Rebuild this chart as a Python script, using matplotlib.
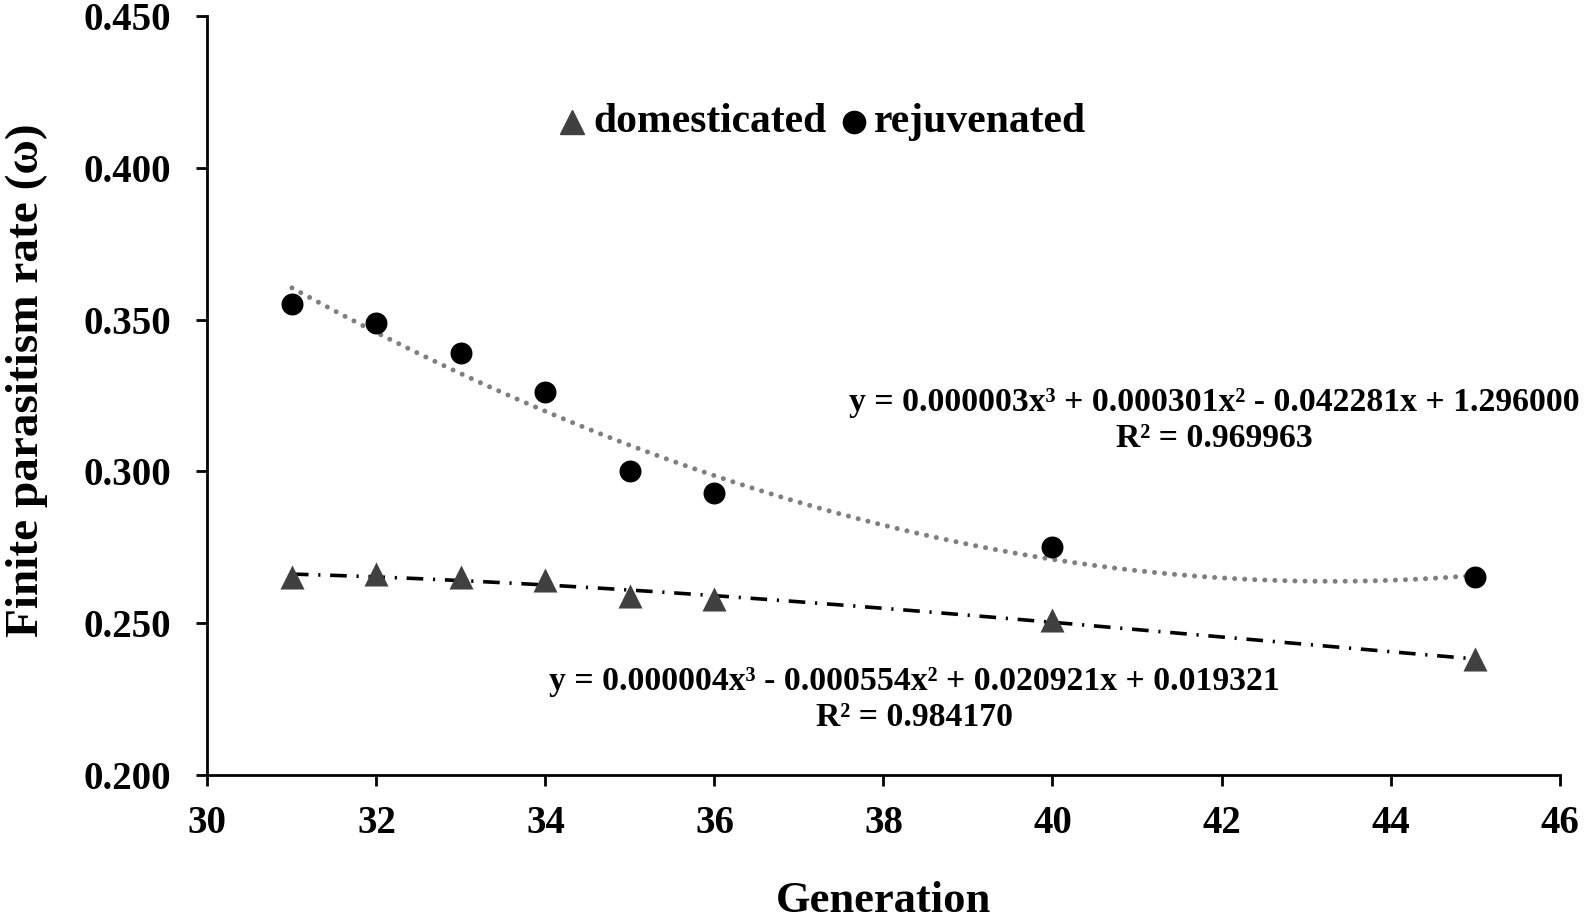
import numpy as np
import matplotlib
matplotlib.use("Agg")
import matplotlib.pyplot as plt

plt.rcParams['font.family'] = ['Liberation Serif', 'DejaVu Serif']
plt.rcParams['font.weight'] = 'bold'

generation = [31, 32, 33, 34, 35, 36, 40, 45]
domesticated = [0.265, 0.266, 0.265, 0.264, 0.259, 0.258, 0.251, 0.238]
rejuvenated = [0.355, 0.349, 0.339, 0.326, 0.300, 0.293, 0.275, 0.265]
series_names = ['domesticated', 'rejuvenated']

eq_dom = "y = 0.000004x\u00b3 - 0.000554x\u00b2 + 0.020921x + 0.019321\nR\u00b2 = 0.984170"
eq_rej = "y = 0.000003x\u00b3 + 0.000301x\u00b2 - 0.042281x + 1.296000\nR\u00b2 = 0.969963"

fig = plt.figure(figsize=(15.94, 9.18), dpi=100)
ax = fig.add_axes([0.1301, 0.1562, 0.8483, 0.826])

x = np.array(generation, dtype=float)
xs = np.linspace(x.min(), x.max(), 300)
p_rej = np.polyfit(x, rejuvenated, 3)
p_dom = np.polyfit(x, domesticated, 3)
ax.plot(xs, np.polyval(p_rej, xs), color='#7f7f7f', linestyle=(0, (0.01, 2.0)), lw=3.6,
        dash_capstyle='round', zorder=2)
ax.plot(xs, np.polyval(p_dom, xs), color='black', linestyle=(0, (4.6, 2.7, 0.6, 2.7)), lw=2.6,
        zorder=2)

ax.scatter(x, rejuvenated, s=250, marker='o', color='black', zorder=3, linewidths=0)
ax.scatter(x, domesticated, s=300, marker='^', color='#404040', zorder=3, linewidths=0)

ax.set_xlim(30, 46)
ax.set_ylim(0.200, 0.450)
ax.set_xticks(np.arange(30, 47, 2))
ax.set_yticks(np.arange(0.200, 0.451, 0.050))
ax.yaxis.set_major_formatter(matplotlib.ticker.FormatStrFormatter('%.3f'))
for s in ['top', 'right']:
    ax.spines[s].set_visible(False)
for s in ['left', 'bottom']:
    ax.spines[s].set_linewidth(2)
ax.tick_params(axis='both', which='major', length=8, width=2, labelsize=28, direction='out')
ax.tick_params(axis='y', pad=18)
ax.tick_params(axis='x', pad=14)
for lab in ax.get_xticklabels() + ax.get_yticklabels():
    lab.set_fontweight('bold')

ax.set_xlabel('Generation', fontsize=32, fontweight='bold', labelpad=28)
ax.set_ylabel('Finite parasitism rate (\u03c9)', fontsize=34, fontweight='bold')
ax.yaxis.set_label_coords(-0.118, 0.52)

# legend (placed manually)
ax.plot([0.270], [0.8606], transform=ax.transAxes, marker='^', color='#404040',
        markersize=17, linestyle='none', clip_on=False)
ax.text(0.2857, 0.8606, series_names[0], transform=ax.transAxes, ha='left', va='center',
        fontsize=30, fontweight='bold')
ax.plot([0.478], [0.8606], transform=ax.transAxes, marker='o', color='black',
        markersize=16, linestyle='none', clip_on=False)
ax.text(0.4932, 0.8606, series_names[1], transform=ax.transAxes, ha='left', va='center',
        fontsize=30, fontweight='bold')

ax.text(0.745, 0.4666, eq_rej, transform=ax.transAxes, ha='center', va='center',
        fontsize=24.3, fontweight='bold', linespacing=1.22)
ax.text(0.523, 0.0986, eq_dom, transform=ax.transAxes, ha='center', va='center',
        fontsize=24.3, fontweight='bold', linespacing=1.22)

fig.savefig('out.png', dpi=100)
